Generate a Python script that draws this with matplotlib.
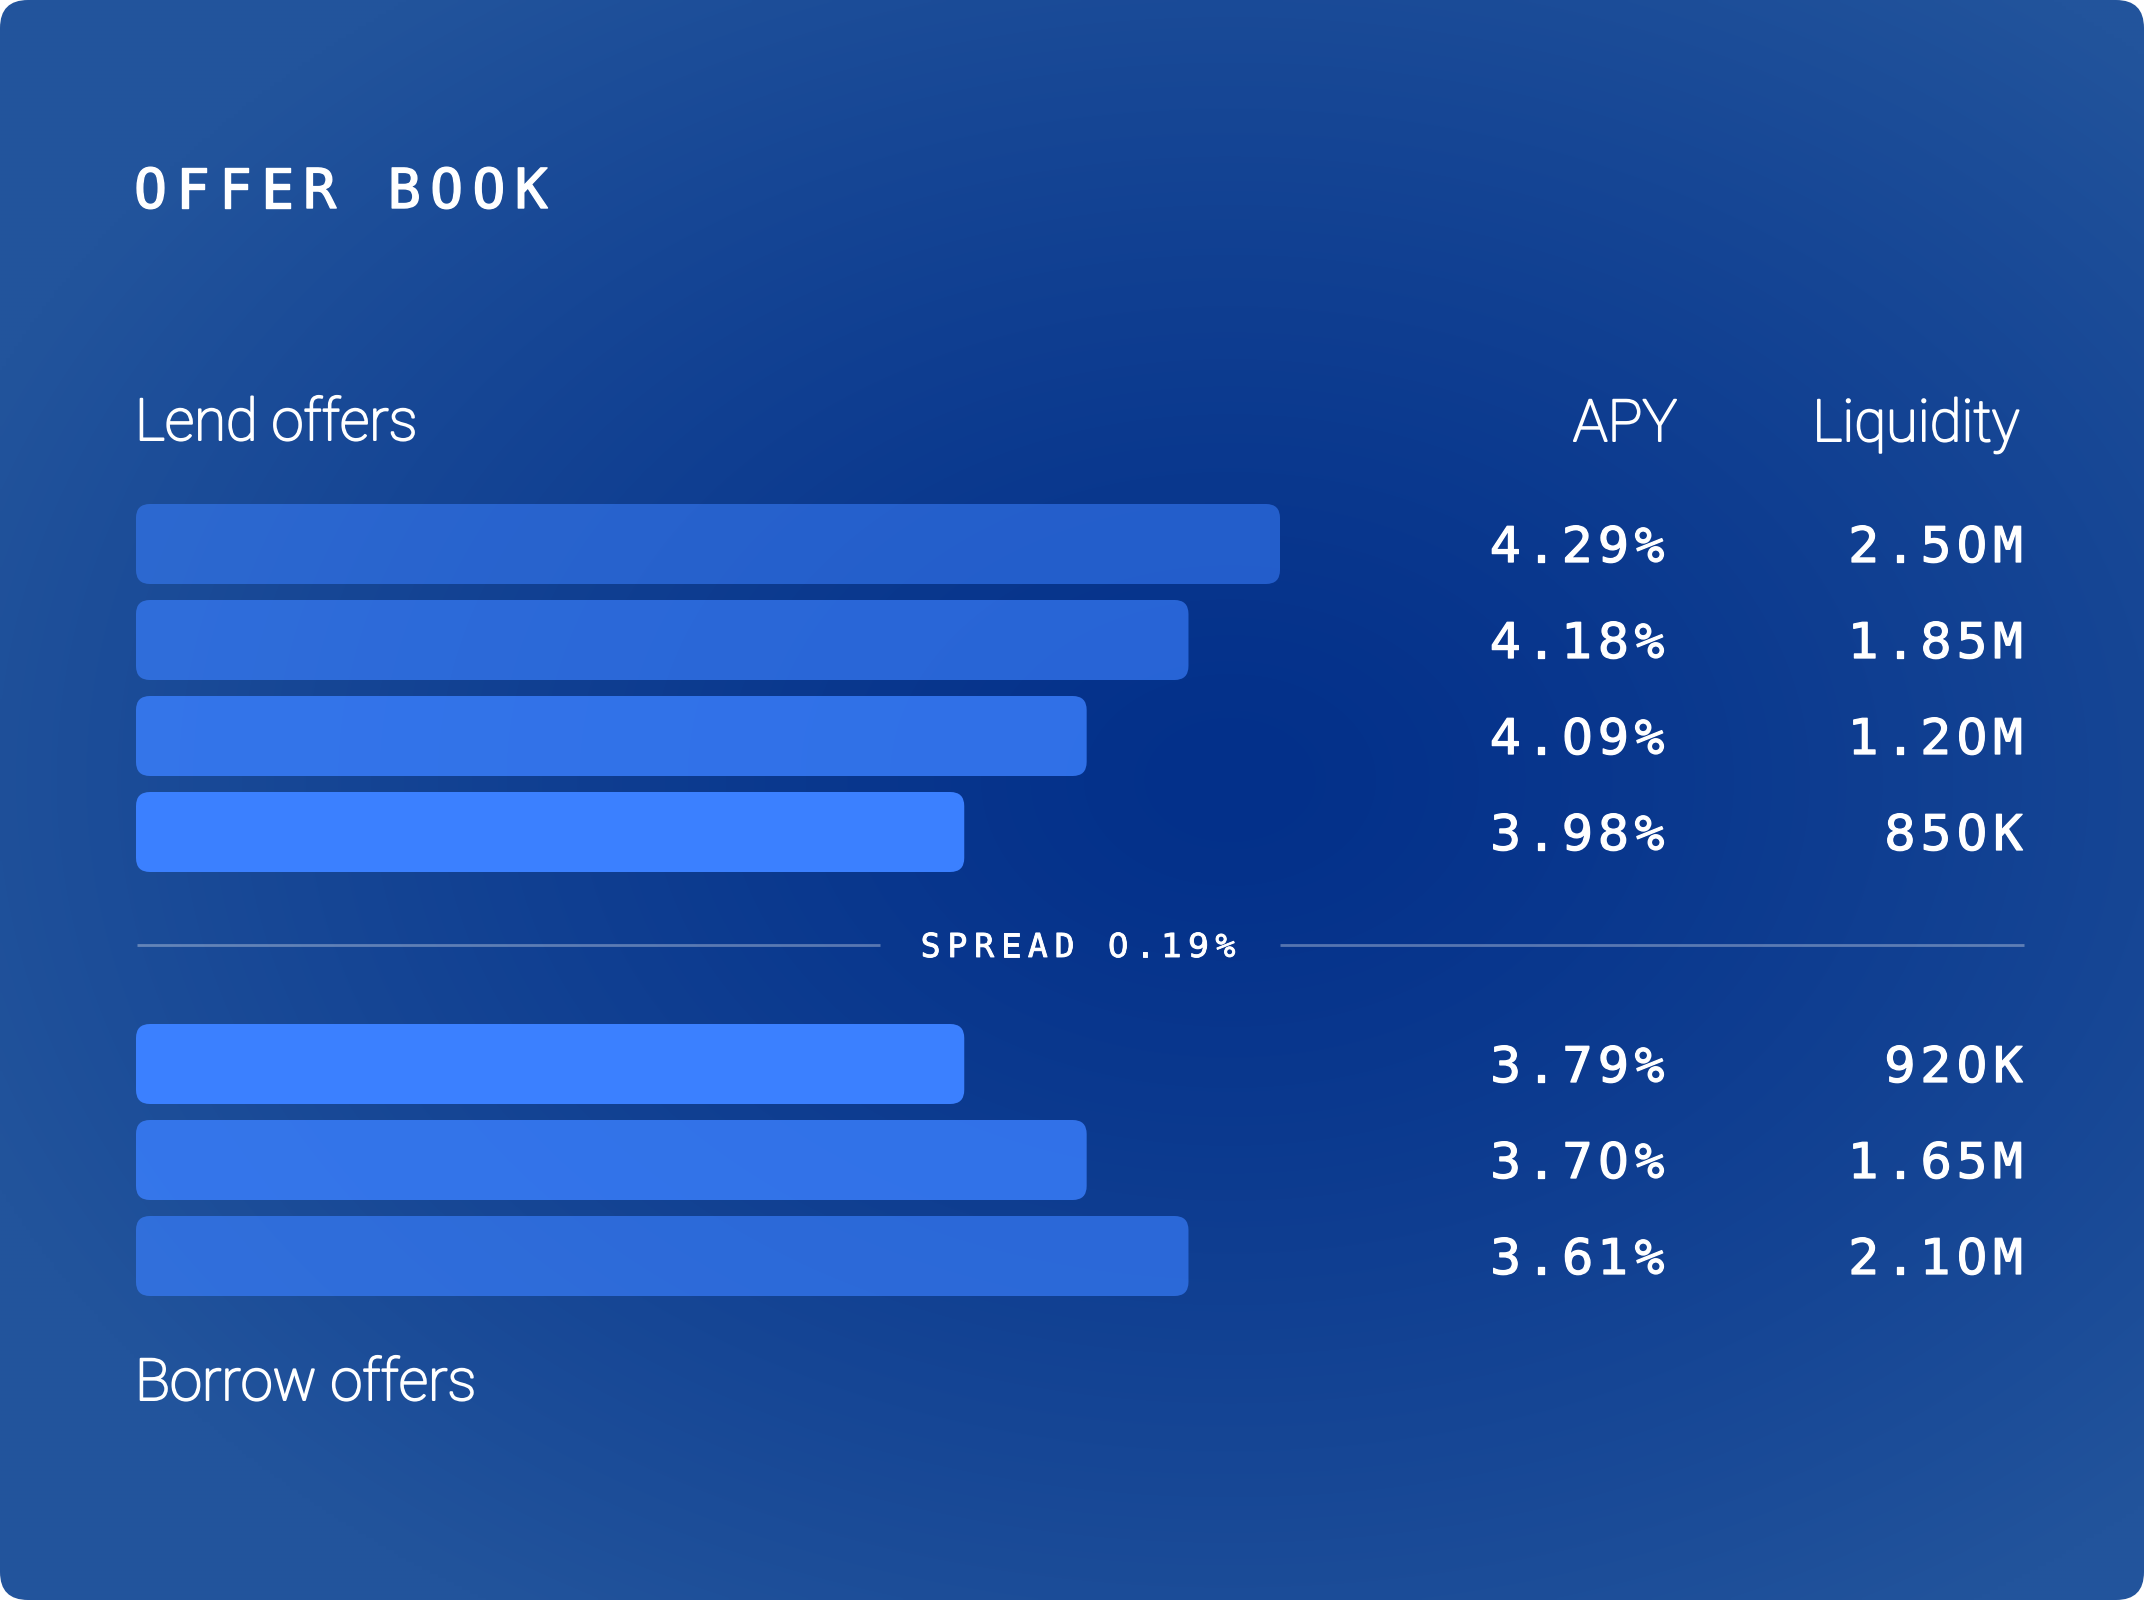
import numpy as np
import matplotlib
matplotlib.use("Agg")
import matplotlib.pyplot as plt
import matplotlib.patheffects as pe
from matplotlib.patches import FancyBboxPatch
from matplotlib.colors import to_rgb

# ---------------- data ----------------
title = "OFFER BOOK"
lend_label = "Lend offers"
borrow_label = "Borrow offers"
col_headers = ["APY", "Liquidity"]
lend_apy = ["4.29%", "4.18%", "4.09%", "3.98%"]
lend_liq = ["2.50M", "1.85M", "1.20M", "850K"]
lend_depth = [100, 92, 83.1, 72.4]
borrow_apy = ["3.79%", "3.70%", "3.61%"]
borrow_liq = ["920K", "1.65M", "2.10M"]
borrow_depth = [72.4, 83.1, 92]
spread_label = "SPREAD 0.19%"

# ---------------- style ----------------
lend_alpha = [0.55, 0.65, 0.80, 1.0]
borrow_alpha = [1.0, 0.80, 0.65]
bar_rgb = to_rgb("#3b80ff")
MONO = "DejaVu Sans Mono"
DIGIT = "DejaVu Sans"
SANS = "Roboto"

W, H = 2144, 1600
DPI = 100
PX = 72.0 / DPI  # points per pixel

fig = plt.figure(figsize=(W / DPI, H / DPI), dpi=DPI)
fig.patch.set_facecolor("white")
ax = fig.add_axes([0, 0, 1, 1])
ax.set_xlim(0, W)
ax.set_ylim(H, 0)
ax.axis("off")

# background radial gradient clipped to rounded card
yy, xx = np.mgrid[0:H:4, 0:W:4] + 2.0
cx, cy = 1230, 780
t = np.sqrt(((xx - cx) / 1350.0) ** 2 + ((yy - cy) / 980.0) ** 2)
t = np.clip(t, 0, 1) ** 1.3
c0 = np.array(to_rgb("#03308a"))
c1 = np.array(to_rgb("#22549c"))
img = c0[None, None, :] * (1 - t[..., None]) + c1[None, None, :] * t[..., None]
im = ax.imshow(img, extent=(0, W, H, 0), interpolation="bilinear", zorder=0)
card = FancyBboxPatch((0, 0), W, H, boxstyle="round,pad=0,rounding_size=28",
                      facecolor="none", edgecolor="none", transform=ax.transData)
ax.add_patch(card)
im.set_clip_path(card)

# ---------------- bars ----------------
bar_x0, bar_full = 136, 1144
bar_h, pitch = 80, 96
lend_top0, borrow_top0 = 504, 1024
y_lo, y_hi = lend_top0, borrow_top0 + 2 * pitch + bar_h
bx = fig.add_axes([bar_x0 / W, (H - y_hi) / H, bar_full / W, (y_hi - y_lo) / H])
bx.set_xlim(0, 100)
bx.set_ylim(y_hi, y_lo)
bx.axis("off")
bx.patch.set_alpha(0)
xu_per_px = 100.0 / bar_full
r_x = 14 * xu_per_px
asp = 1.0 / xu_per_px


def draw_bar(top, depth, alpha):
    p = FancyBboxPatch((0, top), depth, bar_h,
                       boxstyle=f"round,pad=0,rounding_size={r_x}",
                       mutation_aspect=asp,
                       facecolor=(*bar_rgb, alpha), edgecolor="none", zorder=2)
    bx.add_patch(p)


lend_tops = [lend_top0 + i * pitch for i in range(len(lend_depth))]
borrow_tops = [borrow_top0 + i * pitch for i in range(len(borrow_depth))]
for top, d, a in zip(lend_tops, lend_depth, lend_alpha):
    draw_bar(top, d, a)
for top, d, a in zip(borrow_tops, borrow_depth, borrow_alpha):
    draw_bar(top, d, a)


# ---------------- text helpers ----------------
def mono(s, y, size_px, adv, left=None, right=None, center=None, half=14,
         color="white", thick=1.0):
    n = len(s)
    if left is not None:
        c0x = left + half
    elif right is not None:
        c0x = right - half - (n - 1) * adv
    else:
        c0x = center - (n - 1) * adv / 2.0
    eff = [pe.withStroke(linewidth=thick * PX, foreground=color)] if thick > 0 else None
    for i, ch in enumerate(s):
        fam = DIGIT if ch in "0123456789" else MONO
        ax.text(c0x + i * adv, y, ch, family=fam, fontsize=size_px * PX,
                color=color, ha="center", va="baseline", zorder=5,
                path_effects=eff)


# title
mono(title, 208, 55, 42.3, left=137, half=13.5, thick=1.4)

# section labels & headers
sans_px = 58
kw = dict(family=SANS, fontweight="light", fontsize=sans_px * PX, color="white",
          va="baseline", zorder=5,
          path_effects=[pe.withStroke(linewidth=2.0 * PX, foreground="white")])
ax.text(135, 440, lend_label, ha="left", **kw)
ax.text(135, 1400, borrow_label, ha="left", **kw)
ax.text(1677, 441, col_headers[0], ha="right", **kw)
ax.text(2020, 441, col_headers[1], ha="right", **kw)

# numbers
num_px, num_adv = 49, 36
apy_right, liq_right = 1664, 2021
for top, a, l in zip(lend_tops, lend_apy, lend_liq):
    base = top + bar_h / 2 + 18
    mono(a, base, num_px, num_adv, right=apy_right, half=14.5, thick=1.3)
    mono(l, base, num_px, num_adv, right=liq_right, half=13, thick=1.3)
for top, a, l in zip(borrow_tops, borrow_apy, borrow_liq):
    base = top + bar_h / 2 + 18
    mono(a, base, num_px, num_adv, right=apy_right, half=14.5, thick=1.3)
    mono(l, base, num_px, num_adv, right=liq_right, half=13, thick=1.3)

# spread separator
sep_y = 945
line_col = (1, 1, 1, 0.32)
ax.plot([137, 880], [sep_y, sep_y], color=line_col, lw=2.8 * PX, solid_capstyle="butt", zorder=3)
ax.plot([1280, 2024], [sep_y, sep_y], color=line_col, lw=2.8 * PX, solid_capstyle="butt", zorder=3)
mono(spread_label, 957, 33, 26.8, center=1078, thick=0.9)

fig.savefig("out.png", dpi=DPI, facecolor="white")
